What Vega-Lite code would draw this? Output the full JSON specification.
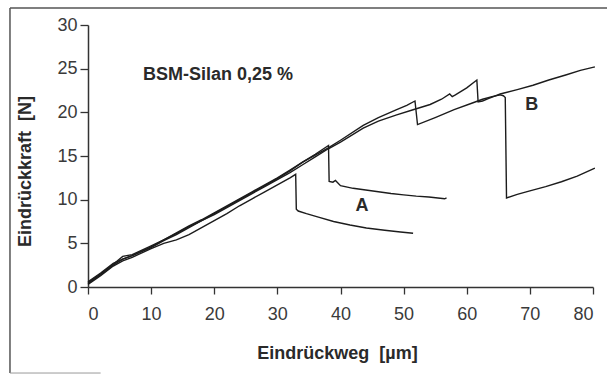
{
  "$schema": "https://vega.github.io/schema/vega-lite/v6.json",
  "width": 505,
  "height": 262,
  "autosize": "none",
  "padding": {"left": 88, "top": 25, "right": 14, "bottom": 89},
  "background": "white",
  "config": {
    "view": {"stroke": null},
    "font": "Liberation Sans",
    "axis": {
      "grid": false,
      "domainColor": "#333333",
      "domainWidth": 1.5,
      "tickColor": "#333333",
      "tickWidth": 1.3,
      "labelColor": "#3a3a3a",
      "labelFontSize": 18,
      "labelFont": "Liberation Sans",
      "titleColor": "#2a2a2a",
      "titleFontSize": 18,
      "titleFontWeight": "bold",
      "titleFont": "Liberation Sans"
    }
  },
  "data": {
    "values": [
      {"s": "A1", "x": 0, "y": 0.3}, {"s": "A1", "x": 2, "y": 1.3}, {"s": "A1", "x": 4, "y": 2.4}, {"s": "A1", "x": 5.5, "y": 3.0}, {"s": "A1", "x": 7, "y": 3.4}, {"s": "A1", "x": 10, "y": 4.4}, {"s": "A1", "x": 12, "y": 5.0}, {"s": "A1", "x": 14, "y": 5.4}, {"s": "A1", "x": 16, "y": 6.0}, {"s": "A1", "x": 18, "y": 6.8}, {"s": "A1", "x": 20, "y": 7.6}, {"s": "A1", "x": 22, "y": 8.4}, {"s": "A1", "x": 24, "y": 9.3}, {"s": "A1", "x": 26, "y": 10.1}, {"s": "A1", "x": 28, "y": 10.9}, {"s": "A1", "x": 30, "y": 11.7}, {"s": "A1", "x": 32, "y": 12.5}, {"s": "A1", "x": 32.9, "y": 12.9}, {"s": "A1", "x": 33.0, "y": 8.9}, {"s": "A1", "x": 33.3, "y": 8.7}, {"s": "A1", "x": 34.6, "y": 8.4}, {"s": "A1", "x": 36.5, "y": 8.0}, {"s": "A1", "x": 38.9, "y": 7.5}, {"s": "A1", "x": 41.5, "y": 7.1}, {"s": "A1", "x": 44.1, "y": 6.75}, {"s": "A1", "x": 47, "y": 6.5}, {"s": "A1", "x": 49.5, "y": 6.3}, {"s": "A1", "x": 51.5, "y": 6.15},
      {"s": "A2", "x": 0, "y": 0.5}, {"s": "A2", "x": 2, "y": 1.5}, {"s": "A2", "x": 4, "y": 2.6}, {"s": "A2", "x": 5.5, "y": 3.5}, {"s": "A2", "x": 7, "y": 3.7}, {"s": "A2", "x": 10, "y": 4.7}, {"s": "A2", "x": 12, "y": 5.4}, {"s": "A2", "x": 14, "y": 6.1}, {"s": "A2", "x": 16, "y": 6.9}, {"s": "A2", "x": 18, "y": 7.6}, {"s": "A2", "x": 20, "y": 8.4}, {"s": "A2", "x": 22, "y": 9.2}, {"s": "A2", "x": 24, "y": 10.0}, {"s": "A2", "x": 26, "y": 10.8}, {"s": "A2", "x": 28, "y": 11.6}, {"s": "A2", "x": 30, "y": 12.4}, {"s": "A2", "x": 32, "y": 13.3}, {"s": "A2", "x": 34, "y": 14.3}, {"s": "A2", "x": 36, "y": 15.2}, {"s": "A2", "x": 38.1, "y": 16.2}, {"s": "A2", "x": 38.2, "y": 12.1}, {"s": "A2", "x": 38.8, "y": 12.0}, {"s": "A2", "x": 39.2, "y": 12.2}, {"s": "A2", "x": 40, "y": 11.6}, {"s": "A2", "x": 42, "y": 11.3}, {"s": "A2", "x": 44, "y": 11.1}, {"s": "A2", "x": 46, "y": 10.9}, {"s": "A2", "x": 48, "y": 10.7}, {"s": "A2", "x": 50, "y": 10.55}, {"s": "A2", "x": 52, "y": 10.4}, {"s": "A2", "x": 54, "y": 10.3}, {"s": "A2", "x": 56.5, "y": 10.1}, {"s": "A2", "x": 56.8, "y": 10.2},
      {"s": "B", "x": 0, "y": 0.6}, {"s": "B", "x": 2, "y": 1.6}, {"s": "B", "x": 4, "y": 2.7}, {"s": "B", "x": 5.5, "y": 3.2}, {"s": "B", "x": 7, "y": 3.6}, {"s": "B", "x": 10, "y": 4.6}, {"s": "B", "x": 12, "y": 5.4}, {"s": "B", "x": 14, "y": 6.2}, {"s": "B", "x": 16, "y": 7.0}, {"s": "B", "x": 18, "y": 7.7}, {"s": "B", "x": 20, "y": 8.5}, {"s": "B", "x": 22, "y": 9.3}, {"s": "B", "x": 24, "y": 10.1}, {"s": "B", "x": 26, "y": 10.9}, {"s": "B", "x": 28, "y": 11.7}, {"s": "B", "x": 30, "y": 12.5}, {"s": "B", "x": 32, "y": 13.4}, {"s": "B", "x": 34, "y": 14.3}, {"s": "B", "x": 36, "y": 15.1}, {"s": "B", "x": 38, "y": 15.9}, {"s": "B", "x": 40, "y": 16.8}, {"s": "B", "x": 43.6, "y": 18.5}, {"s": "B", "x": 46, "y": 19.4}, {"s": "B", "x": 48.9, "y": 20.3}, {"s": "B", "x": 50.5, "y": 20.8}, {"s": "B", "x": 51.8, "y": 21.3}, {"s": "B", "x": 52.2, "y": 18.6}, {"s": "B", "x": 55, "y": 19.4}, {"s": "B", "x": 58, "y": 20.3}, {"s": "B", "x": 61, "y": 21.1}, {"s": "B", "x": 62.5, "y": 21.5}, {"s": "B", "x": 64, "y": 21.8}, {"s": "B", "x": 65.3, "y": 22.0}, {"s": "B", "x": 65.8, "y": 21.9}, {"s": "B", "x": 66.1, "y": 21.7}, {"s": "B", "x": 66.3, "y": 10.2}, {"s": "B", "x": 68, "y": 10.6}, {"s": "B", "x": 70, "y": 11.0}, {"s": "B", "x": 72.5, "y": 11.5}, {"s": "B", "x": 75, "y": 12.05}, {"s": "B", "x": 77.5, "y": 12.7}, {"s": "B", "x": 80.3, "y": 13.6},
      {"s": "D", "x": 0, "y": 0.4}, {"s": "D", "x": 2, "y": 1.4}, {"s": "D", "x": 4, "y": 2.5}, {"s": "D", "x": 5.5, "y": 3.2}, {"s": "D", "x": 7, "y": 3.6}, {"s": "D", "x": 10, "y": 4.5}, {"s": "D", "x": 12, "y": 5.3}, {"s": "D", "x": 14, "y": 6.0}, {"s": "D", "x": 16, "y": 6.8}, {"s": "D", "x": 18, "y": 7.6}, {"s": "D", "x": 20, "y": 8.3}, {"s": "D", "x": 22, "y": 9.1}, {"s": "D", "x": 24, "y": 9.9}, {"s": "D", "x": 26, "y": 10.7}, {"s": "D", "x": 28, "y": 11.5}, {"s": "D", "x": 30, "y": 12.3}, {"s": "D", "x": 32, "y": 13.1}, {"s": "D", "x": 34, "y": 14.0}, {"s": "D", "x": 36, "y": 14.9}, {"s": "D", "x": 38, "y": 15.8}, {"s": "D", "x": 40, "y": 16.6}, {"s": "D", "x": 43.6, "y": 18.2}, {"s": "D", "x": 46, "y": 19.0}, {"s": "D", "x": 48.9, "y": 19.7}, {"s": "D", "x": 51.5, "y": 20.3}, {"s": "D", "x": 54.2, "y": 20.9}, {"s": "D", "x": 56, "y": 21.5}, {"s": "D", "x": 57.3, "y": 22.1}, {"s": "D", "x": 57.7, "y": 21.8}, {"s": "D", "x": 58.2, "y": 22.0}, {"s": "D", "x": 60, "y": 22.8}, {"s": "D", "x": 61.6, "y": 23.7}, {"s": "D", "x": 61.8, "y": 21.2}, {"s": "D", "x": 62.5, "y": 21.3}, {"s": "D", "x": 63.5, "y": 21.6}, {"s": "D", "x": 65.3, "y": 22.1}, {"s": "D", "x": 68, "y": 22.6}, {"s": "D", "x": 70.5, "y": 23.1}, {"s": "D", "x": 73, "y": 23.7}, {"s": "D", "x": 75.8, "y": 24.3}, {"s": "D", "x": 78, "y": 24.8}, {"s": "D", "x": 80.3, "y": 25.2}
    ]
  },
  "layer": [
    {
      "mark": {"type": "line", "color": "#1c1c1c", "strokeWidth": 1.4, "clip": false},
      "encoding": {
        "x": {
          "field": "x", "type": "quantitative",
          "scale": {"domain": [0, 80], "nice": false, "zero": false},
          "axis": {
            "title": "Eindrückweg \u00a0[µm]",
            "values": [0, 10, 20, 30, 40, 50, 60, 70, 80],
            "tickSize": 7,
            "labelPadding": 11,
            "titleX": 249,
            "titleY": 66,
            "titleAlign": "center",
            "titleBaseline": "middle"
          }
        },
        "y": {
          "field": "y", "type": "quantitative",
          "scale": {"domain": [0, 30], "nice": false, "zero": false},
          "axis": {
            "title": "Eindrückkraft \u00a0[N]",
            "values": [0, 5, 10, 15, 20, 25, 30],
            "tickSize": 8,
            "labelPadding": 3,
            "titleX": -63,
            "titleY": 146,
            "titleAngle": -90,
            "titleAlign": "center",
            "titleBaseline": "middle"
          }
        },
        "detail": {"field": "s"},
        "order": {"value": null}
      }
    },
    {
      "data": {"values": [{}]},
      "mark": {"type": "rule", "color": "#555555", "strokeWidth": 1.5},
      "encoding": {"x": {"datum": -12.36}, "x2": {"datum": 83}, "y": {"datum": 31.95}}
    },
    {
      "data": {"values": [{}]},
      "mark": {"type": "rule", "color": "#555555", "strokeWidth": 1.5},
      "encoding": {"x": {"datum": -12.36}, "y": {"datum": 31.95}, "y2": {"datum": -9.85}}
    },
    {
      "data": {"values": [{}]},
      "mark": {"type": "rule", "color": "#999999", "strokeWidth": 1},
      "encoding": {"x": {"datum": -12.36}, "x2": {"datum": 2}, "y": {"datum": -9.85}}
    },
    {
      "data": {"values": [{}]},
      "mark": {"type": "text", "fontSize": 18, "fontWeight": "bold", "align": "left", "baseline": "middle", "color": "#2a2a2a"},
      "encoding": {"x": {"datum": 8.7}, "y": {"datum": 24.3}, "text": {"value": "BSM-Silan 0,25 %"}}
    },
    {
      "data": {"values": [{}]},
      "mark": {"type": "text", "fontSize": 18, "fontWeight": "bold", "align": "center", "baseline": "middle", "color": "#2a2a2a"},
      "encoding": {"x": {"datum": 43.4}, "y": {"datum": 9.28}, "text": {"value": "A"}}
    },
    {
      "data": {"values": [{}]},
      "mark": {"type": "text", "fontSize": 18, "fontWeight": "bold", "align": "center", "baseline": "middle", "color": "#2a2a2a"},
      "encoding": {"x": {"datum": 70.3}, "y": {"datum": 20.84}, "text": {"value": "B"}}
    }
  ]
}
